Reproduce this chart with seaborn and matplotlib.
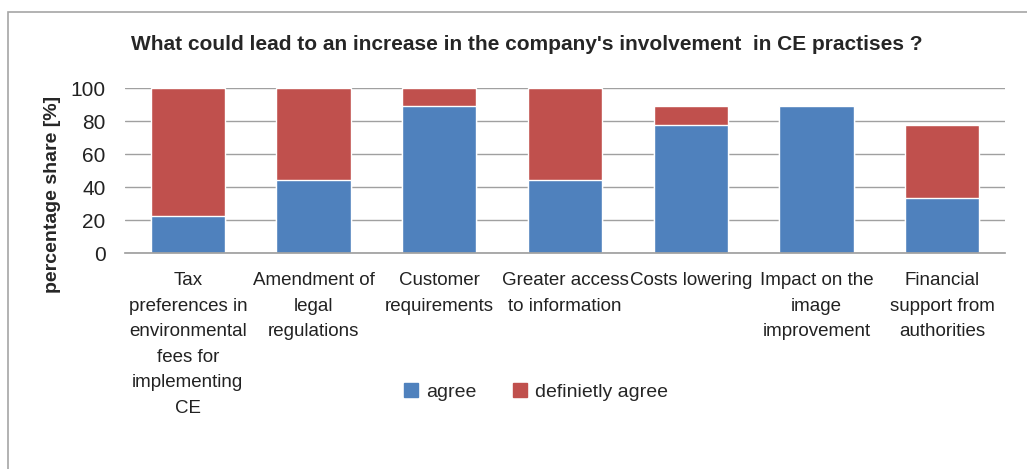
import pandas as pd
import seaborn as sns
import matplotlib.pyplot as plt
from matplotlib.patches import Rectangle

# data (n = 9 respondents)
categories = [
    "Tax\npreferences in\nenvironmental\nfees for\nimplementing\nCE",
    "Amendment of\nlegal\nregulations",
    "Customer\nrequirements",
    "Greater access\nto information",
    "Costs lowering",
    "Impact on the\nimage\nimprovement",
    "Financial\nsupport from\nauthorities",
]
agree = [22.2, 44.4, 88.9, 44.4, 77.8, 88.9, 33.3]
definitely_agree = [77.8, 55.6, 11.1, 55.6, 11.1, 0.0, 44.4]
series_names = ["agree", "definietly agree"]
yticks = [0, 20, 40, 60, 80, 100]

blue = "#4f81bd"
red = "#c0504d"

df = pd.DataFrame({"Category": categories, "agree": agree, "definitely": definitely_agree})
df["total"] = df["agree"] + df["definitely"]

sns.set_theme(style="white")
plt.rcParams["font.family"] = ["Liberation Sans", "DejaVu Sans"]

fig = plt.figure(figsize=(10.27, 4.69), dpi=100)
ax = fig.add_axes([125 / 1027, 1 - 253 / 469, 880 / 1027, 165 / 469])

# frame around the chart area
fig.patches.append(Rectangle((8 / 1027, -0.1), 1.1, 1 - 12 / 469 + 0.1, transform=fig.transFigure,
                             fill=False, edgecolor="#a6a6a6", linewidth=1.2))

sns.barplot(data=df, x="Category", y="total", color=red, width=0.59, saturation=1, ax=ax)
sns.barplot(data=df, x="Category", y="agree", color=blue, width=0.59, saturation=1, ax=ax)

ax.set_ylim(0, 100)
ax.set_xlim(-0.5, len(categories) - 0.5)
ax.set_yticks(yticks)
ax.yaxis.grid(True, color="#a0a0a0", linewidth=1)
ax.set_axisbelow(True)
for s in ["left", "right", "top"]:
    ax.spines[s].set_visible(False)
ax.spines["bottom"].set_color("#a0a0a0")
ax.tick_params(axis="y", labelsize=15, length=0, pad=14, colors="#222222")
ax.tick_params(axis="x", labelsize=13.5, length=0, pad=14, colors="#222222")
ax.set_xticks(range(len(categories)))
ax.set_xticklabels(categories, linespacing=1.65, va="top")
ax.set_xlabel("")
ax.set_ylabel("percentage share [%]", fontsize=14, fontweight="bold")
ax.yaxis.set_label_coords(-64 / 880, (253 - 194) / 165)

fig.text(527 / 1027, 1 - 45 / 469, "What could lead to an increase in the company's involvement  in CE practises ?",
         ha="center", va="center", fontsize=15, fontweight="bold")

handles = [Rectangle((0, 0), 1, 1, color=blue), Rectangle((0, 0), 1, 1, color=red)]
fig.legend(handles, series_names, loc="center", bbox_to_anchor=(536 / 1027, 1 - 392 / 469),
           ncol=2, frameon=False, fontsize=14, handlelength=0.7, handleheight=0.7,
           columnspacing=1.9, handletextpad=0.4)

plt.savefig("out.png", dpi=100)
